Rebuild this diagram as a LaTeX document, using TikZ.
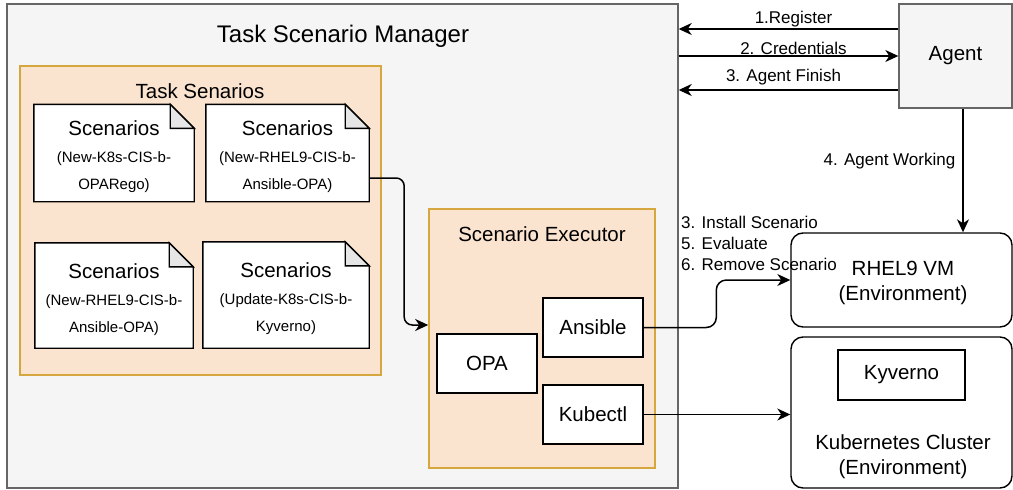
\documentclass[tikz,border=0pt]{standalone}
\usepackage{fontspec}
\setmainfont{Liberation Sans}
\usetikzlibrary{arrows.meta}
\definecolor{mgrfill}{HTML}{F5F5F5}
\definecolor{mgrline}{HTML}{666666}
\definecolor{grpfill}{HTML}{FBE4CF}
\definecolor{grpline}{HTML}{D6A73E}
\definecolor{foldgray}{HTML}{E6E6E6}
\begin{document}
\begin{tikzpicture}[x=1pt,y=-1pt,
  big/.style={font=\fontsize{20.5}{25}\selectfont},
  lbl/.style={font=\fontsize{17}{21}\selectfont,inner sep=1pt},
  box/.style={draw=black,line width=1.4pt,fill=white,inner sep=0pt,
    minimum width=100pt,minimum height=59pt,big},
  env/.style={draw=black,line width=1.4pt,fill=white,rounded corners=12pt,
    minimum width=221pt,inner sep=0pt},
  group/.style={draw=grpline,fill=grpfill,line width=1.6pt,inner sep=0pt},
  grey/.style={draw=mgrline,fill=mgrfill,line width=1.4pt,inner sep=0pt},
  arr/.style={line width=1.5pt,-{Stealth[length=13pt,width=12pt,inset=4pt]}}]
  \useasboundingbox (0,0) rectangle (1013,490);
  % manager and agent
  \node[grey,minimum width=671pt,minimum height=484pt] (manager) at (342.5,246) {};
  \node[font=\fontsize{24}{28}\selectfont] (title) at (343,36) {Task Scenario Manager};
  \node[grey,minimum width=113pt,minimum height=104pt,big] (agent) at (955.5,56) {Agent};
  % task scenarios
  \node[group,minimum width=361pt,minimum height=309pt] (tasks) at (200.5,220.5) {};
  \node[big] (taskstitle) at (200,91) {Task Senarios};
  \foreach \nm/\cx/\cy/\w/\h/\la/\lb in {
      doc1/114/153/160/97/{(New-K8s-CIS-b-}/{OPARego)},
      doc2/287.5/153/163/97/{(New-RHEL9-CIS-b-}/{Ansible-OPA)},
      doc3/114/295.5/158/105/{(New-RHEL9-CIS-b-}/{Ansible-OPA)},
      doc4/286/295/166/106/{(Update-K8s-CIS-b-}/{Kyverno)}} {
    \node[minimum width=\w pt,minimum height=\h pt,inner sep=0pt] (\nm) at (\cx,\cy) {};
    \draw[line width=1.4pt,fill=white] (\nm.north west) -- ([xshift=-24pt]\nm.north east)
      -- ([yshift=-24pt]\nm.north east) -- (\nm.south east) -- (\nm.south west) -- cycle;
    \draw[line width=1.4pt,fill=foldgray] ([xshift=-24pt]\nm.north east)
      -- ([xshift=-24pt,yshift=-24pt]\nm.north east) -- ([yshift=-24pt]\nm.north east) -- cycle;
    \node[align=center,font=\fontsize{15}{27}\selectfont,inner sep=0pt] (\nm-txt) at ([yshift=-4pt]\nm.center)
      {{\fontsize{20.5}{27}\selectfont Scenarios}\\\la\\\lb};
  }
  % executor
  \node[group,minimum width=226pt,minimum height=259pt] (exec) at (542,338.5) {};
  \node[big] (exectitle) at (542,234) {Scenario Executor};
  \node[box] (ansible) at (593,327.5) {Ansible};
  \node[box] (opa) at (487,363.5) {OPA};
  \node[box] (kubectl) at (593,414.5) {Kubectl};
  % environments
  \node[env,minimum height=94pt] (rhel) at (901.5,280) {};
  \node[align=center,big,inner sep=0pt] (rheltxt) at (903,282.5) {RHEL9 VM\\(Environment)};
  \node[env,minimum height=151pt] (k8s) at (901.5,412.5) {};
  \node[draw=black,line width=1.4pt,minimum width=127pt,minimum height=50pt,big] (kyverno) at (901.5,375) {Kyverno};
  \node[align=center,big,inner sep=0pt] (k8stxt) at (903,457) {Kubernetes Cluster\\(Environment)};
  % agent arrows
  \path ([yshift=27pt]agent.west) coordinate (reg)
        ([yshift=-34pt]agent.west) coordinate (fin)
        ([xshift=7.5pt]agent.south) coordinate (work);
  \draw[arr] (reg) -- (reg -| manager.east) node[lbl,midway,above,xshift=5pt] {1.Register};
  \draw[arr] (agent.west -| manager.east) -- (agent.west) node[lbl,midway,above,xshift=5pt] {2. Credentials};
  \draw[arr] (fin) -- (fin -| manager.east) node[lbl,midway,above,xshift=-5pt,yshift=3pt] {3. Agent Finish};
  \draw[arr] (work) -- (work |- rhel.north) node[lbl,pos=0.42,left=6pt] {4. Agent Working};
  % executor arrows
  \draw[arr,rounded corners=8pt] ([yshift=-25pt]doc2.east) -| ([xshift=-24pt,yshift=13.5pt]exec.west)
    -- ([yshift=13.5pt]exec.west);
  \draw[arr,rounded corners=10pt] (ansible.east) -| ([xshift=-74pt]rhel.west) -- (rhel.west);
  \draw[arr] (kubectl.east) -- (kubectl.east -| k8s.west);
  \node[lbl,align=left,anchor=north west,inner sep=0pt] (steps) at (681,216)
    {3. Install Scenario\\5. Evaluate\\6. Remove Scenario};
\end{tikzpicture}
\end{document}
